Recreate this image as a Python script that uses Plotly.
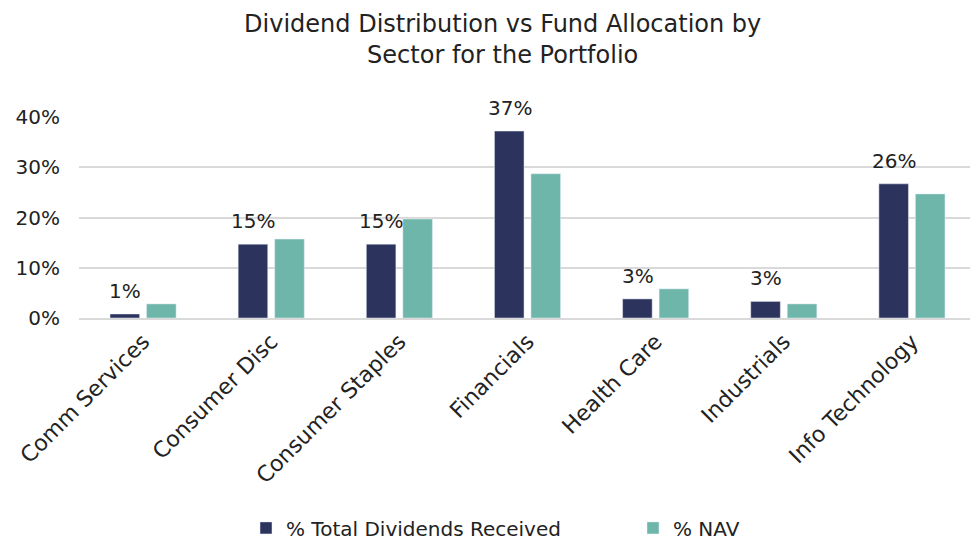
import plotly.graph_objects as go

sectores = ['Comm Services', 'Consumer Disc', 'Consumer Staples', 'Financials',
            'Health Care', 'Industrials', 'Info Technology']
dividendos = [0.008, 0.147, 0.147, 0.372, 0.038, 0.033, 0.267]
nav = [0.028, 0.157, 0.197, 0.287, 0.058, 0.028, 0.247]
etiquetas = ['1%', '15%', '15%', '37%', '3%', '3%', '26%']

fuente = 'DejaVu Sans'
texto = '#222222'

fig = go.Figure()
fig.add_trace(go.Bar(x=sectores, y=dividendos, name='% Total Dividends Received',
                     marker_color='#2C335D'))
fig.add_trace(go.Bar(x=sectores, y=nav, name='% NAV', marker_color='#6FB6AA'))

# etiquetas sobre las barras de dividendos
for s, v, t in zip(sectores, dividendos, etiquetas):
    fig.add_annotation(x=s, y=v, text=t, showarrow=False, yanchor='bottom',
                       xshift=-18, yshift=9, font=dict(family=fuente, size=20, color=texto))

# la pagina deja 8px de margen en el body, por eso 970x536
fig.update_layout(
    width=970, height=536,
    title=dict(text='Dividend Distribution vs Fund Allocation by<br>Sector for the Portfolio',
               x=0.51, xanchor='center', y=0.955, yanchor='top',
               font=dict(family=fuente, size=24, color=texto)),
    font=dict(family=fuente, size=20, color=texto),
    plot_bgcolor='white', paper_bgcolor='white',
    margin=dict(l=71, r=2, t=109, b=226, autoexpand=False),
    bargap=0.43, bargroupgap=0.19,
    showlegend=True,
    legend=dict(orientation='h', xref='container', x=238 / 970, xanchor='left',
                yref='container', y=0.03, yanchor='middle',
                entrywidth=342, entrywidthmode='pixels',
                font=dict(family=fuente, size=20, color=texto)),
)
fig.update_yaxes(range=[0, 0.4], tickformat='.0%', dtick=0.1, showgrid=True,
                 gridcolor='#D9D9D9', gridwidth=2, zeroline=False, showline=False,
                 ticks='', ticklabelstandoff=18, automargin=False)
fig.update_xaxes(tickangle=-45, showline=True, linecolor='#D9D9D9', linewidth=2,
                 ticks='', showgrid=False, tickfont=dict(size=22), automargin=False)

fig.write_html('out.html')
